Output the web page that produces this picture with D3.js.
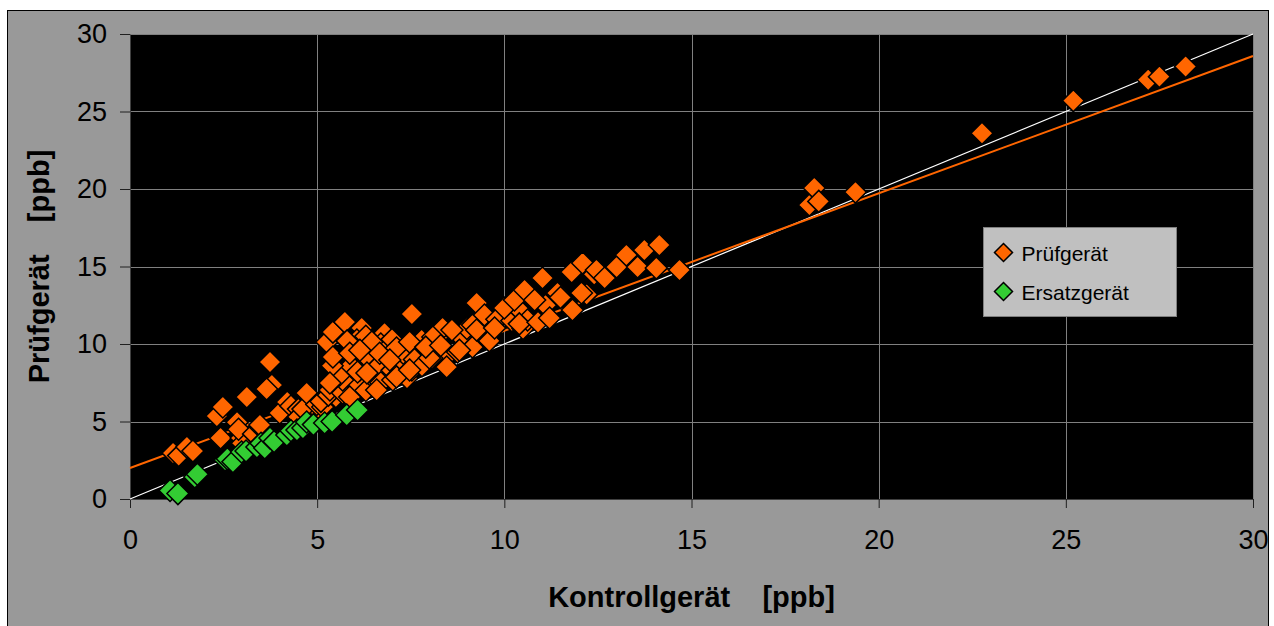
<!DOCTYPE html>
<html lang="de">
<head>
<meta charset="UTF-8">
<title>Prüfgerät vs Kontrollgerät</title>
<script src="https://cdn.jsdelivr.net/npm/d3@7"></script>
<style>
  body { margin: 0; background: #fff; }
  svg text { font-family: "Liberation Sans", Arial, sans-serif; fill: #000; }
</style>
</head>
<body>
<div id="chart"></div>
<script>
// values: [Kontrollgerät, Prüfgerät] in ppb
var pruefgeraet = [
  [1.15, 2.97], [1.3, 2.8], [1.52, 3.35], [1.68, 3.1],
  [2.32, 5.35], [2.48, 5.94], [2.42, 3.94], [2.86, 4.95], [2.97, 3.94], [3.12, 6.58],
  [3.0, 3.6], [2.9, 4.5], [3.3, 4.2], [3.5, 4.6],
  [3.47, 4.77], [3.74, 8.84], [3.79, 7.35], [3.65, 7.1], [4.0, 5.55], [4.2, 6.26],
  [4.3, 6.0], [4.5, 5.8], [4.8, 6.6], [5.0, 5.8],
  [4.5, 5.3], [4.62, 5.8], [4.72, 6.84], [4.99, 6.1], [5.15, 5.94], [5.1, 6.3], [5.5, 6.6],
  [5.3, 6.7], [5.6, 7.1], [6.1, 7.4], [6.3, 7.0], [6.5, 7.8],
  [5.34, 7.03], [5.68, 6.84], [5.68, 7.68], [5.87, 6.58], [6.14, 8.32],
  [5.6, 8.0], [5.9, 8.6], [5.4, 8.6], [6.3, 9.2], [6.6, 8.5], [6.9, 9.2], [6.7, 7.5], [7.0, 8.3], [7.4, 7.8],
  [5.26, 10.13], [5.42, 10.77], [5.74, 11.42], [6.19, 11.03], [6.06, 10.26], [6.8, 10.7],
  [5.8, 10.2], [6.3, 10.5], [6.7, 10.0], [7.0, 10.3],
  [6.46, 10.13], [5.42, 9.16], [5.87, 9.4], [6.08, 8.19], [6.67, 9.4], [7.2, 9.1],
  [7.53, 8.32], [6.59, 7.03], [7.02, 7.68], [5.34, 7.48], [6.33, 8.13], [7.53, 11.94],
  [7.3, 9.4], [7.6, 9.0], [7.8, 8.6], [8.2, 10.4], [8.5, 9.3], [8.9, 10.3], [9.0, 11.0],
  [7.79, 10.26], [8.06, 9.1], [8.35, 11.03], [8.75, 9.48], [8.46, 8.52], [9.15, 11.23],
  [9.26, 12.65], [9.42, 10.58], [9.47, 11.87], [9.15, 9.8], [8.09, 10.45], [7.12, 9.74],
  [7.12, 7.87], [7.47, 8.32], [8.0, 9.1], [8.8, 9.6], [9.26, 10.9], [6.94, 8.97],
  [7.47, 10.13], [6.14, 9.6], [7.9, 9.8], [8.6, 10.9], [8.3, 9.9],
  [9.6, 10.2], [9.8, 11.6], [10.2, 11.5], [10.4, 12.2], [10.5, 11.0], [10.8, 12.8], [11.1, 12.5],
  [9.74, 11.03], [10.0, 12.32], [10.27, 12.84], [10.54, 13.48], [10.62, 11.55], [10.81, 12.84],
  [10.4, 11.3], [10.9, 11.4], [11.02, 14.26], [11.21, 11.68], [11.42, 13.29], [11.8, 14.65],
  [11.5, 13.0], [12.2, 13.2], [12.4, 14.5],
  [11.82, 12.19], [12.06, 13.29], [12.09, 15.23], [12.46, 14.77], [12.68, 14.26], [13.0, 14.97],
  [13.26, 15.74], [13.56, 14.97], [13.74, 16.06], [14.14, 16.39], [14.06, 14.9], [14.68, 14.77],
  [18.15, 18.97], [18.28, 20.06], [18.4, 19.2], [19.38, 19.8], [22.76, 23.6], [25.2, 25.7],
  [27.2, 27.05], [27.5, 27.25], [28.2, 27.9]
];

var ersatzgeraet = [
  [1.07, 0.55], [1.28, 0.35], [1.73, 1.42], [1.8, 1.6], [2.54, 2.52], [2.6, 2.6], [2.75, 2.4],
  [2.98, 3.03], [3.1, 3.1], [3.39, 3.35], [3.5, 3.6], [3.6, 3.29], [3.74, 3.94], [3.85, 3.7],
  [4.19, 4.13], [4.3, 4.4], [4.46, 4.45], [4.62, 4.58], [4.72, 4.97], [4.9, 4.8], [5.2, 4.9],
  [5.4, 5.0], [5.79, 5.42], [6.08, 5.74]
];

var seriesNames = ["Prüfgerät", "Ersatzgerät"];
var seriesColors = ["#ff6600", "#33cc33"];
var xTicks = [0, 5, 10, 15, 20, 25, 30];
var yTicks = [0, 5, 10, 15, 20, 25, 30];

// regression line of Prüfgerät
var regSlope = 0.886;
var regIntercept = 2.0;

var W = 1274, H = 626;
var plot = { left: 130, top: 34, right: 1253, bottom: 499 };

var svg = d3.select("#chart").append("svg")
  .attr("width", W).attr("height", H);

// chart area frame
svg.append("rect")
  .attr("x", 7.5).attr("y", 10.5)
  .attr("width", 1261).attr("height", 630)
  .attr("fill", "#999999").attr("stroke", "#000").attr("stroke-width", 1);

var x = d3.scaleLinear().domain([0, 30]).range([plot.left, plot.right]);
var y = d3.scaleLinear().domain([0, 30]).range([plot.bottom, plot.top]);

// plot area
svg.append("rect")
  .attr("x", plot.left).attr("y", plot.top)
  .attr("width", plot.right - plot.left).attr("height", plot.bottom - plot.top)
  .attr("fill", "#000");

// grid
svg.append("g").selectAll("line.gx")
  .data(xTicks.slice(1)).enter().append("line")
  .attr("x1", d => Math.round(x(d)) + 0.5).attr("x2", d => Math.round(x(d)) + 0.5)
  .attr("y1", plot.top).attr("y2", plot.bottom)
  .attr("stroke", "#808080").attr("stroke-width", 1);
svg.append("g").selectAll("line.gy")
  .data(yTicks.slice(1)).enter().append("line")
  .attr("y1", d => Math.round(y(d)) + 0.5).attr("y2", d => Math.round(y(d)) + 0.5)
  .attr("x1", plot.left).attr("x2", plot.right)
  .attr("stroke", "#808080").attr("stroke-width", 1);

// axes
var xAxis = svg.append("g")
  .attr("transform", "translate(0," + plot.bottom + ")")
  .call(d3.axisBottom(x).tickValues(xTicks).tickSize(9).tickPadding(22).tickSizeOuter(0));
var yAxis = svg.append("g")
  .attr("transform", "translate(" + plot.left + ",0)")
  .call(d3.axisLeft(y).tickValues(yTicks).tickSize(10).tickPadding(13).tickSizeOuter(0));
[xAxis, yAxis].forEach(function (g) {
  g.select(".domain").attr("stroke", "#404040");
  g.selectAll(".tick line").attr("stroke", "#202020");
  g.selectAll("text")
    .style("font-family", "'Liberation Sans', Arial, sans-serif")
    .style("font-size", "27px").attr("fill", "#000");
});

// 1:1 line and regression line
svg.append("line")
  .attr("x1", x(0)).attr("y1", y(0)).attr("x2", x(30)).attr("y2", y(30))
  .attr("stroke", "#fff").attr("stroke-width", 1.2);
svg.append("line")
  .attr("x1", x(0)).attr("y1", y(regIntercept))
  .attr("x2", x(30)).attr("y2", y(regIntercept + regSlope * 30))
  .attr("stroke", seriesColors[0]).attr("stroke-width", 2);

function diamond(r) {
  return "M0," + (-r) + "L" + r + ",0L0," + r + "L" + (-r) + ",0Z";
}

[pruefgeraet, ersatzgeraet].forEach(function (data, i) {
  svg.append("g").selectAll("path")
    .data(data).enter().append("path")
    .attr("d", diamond(11))
    .attr("transform", d => "translate(" + x(d[0]) + "," + y(d[1]) + ")")
    .attr("fill", seriesColors[i])
    .attr("stroke", "#000").attr("stroke-width", 1.5);
});

// axis titles
svg.append("text")
  .attr("x", (plot.left + plot.right) / 2).attr("y", 607)
  .attr("text-anchor", "middle")
  .style("font-size", "29px").style("font-weight", "bold").style("white-space", "pre")
  .text("Kontrollgerät    [ppb]");
svg.append("text")
  .attr("transform", "translate(49," + (plot.top + plot.bottom) / 2 + ") rotate(-90)")
  .attr("text-anchor", "middle")
  .style("font-size", "29px").style("font-weight", "bold").style("white-space", "pre")
  .text("Prüfgerät    [ppb]");

// legend
var legend = svg.append("g").attr("transform", "translate(983.5,227.5)");
legend.append("rect")
  .attr("width", 193).attr("height", 89)
  .attr("fill", "#c0c0c0").attr("stroke", "#808080").attr("stroke-width", 1);
seriesNames.forEach(function (name, i) {
  var row = legend.append("g").attr("transform", "translate(0," + (25 + i * 39) + ")");
  row.append("path")
    .attr("d", diamond(9))
    .attr("transform", "translate(20,0)")
    .attr("fill", seriesColors[i]).attr("stroke", "#000").attr("stroke-width", 1.5);
  row.append("text")
    .attr("x", 38).attr("y", 8)
    .style("font-size", "21px")
    .text(name);
});
</script>
</body>
</html>
